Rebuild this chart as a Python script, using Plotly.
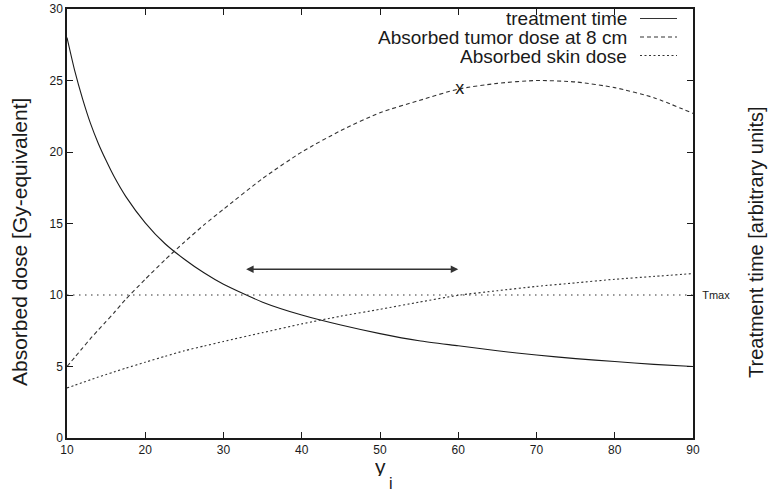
import plotly.graph_objects as go

# ---- data ----
y_i = [10, 11, 12, 13, 14, 15, 16, 17.5, 20, 22.5, 25, 27.5, 30, 35, 40, 45, 50, 55, 60, 65, 70, 75, 80, 85, 90]
treatment_time = [28.0, 25.65, 23.7, 22.0, 20.6, 19.4, 18.3, 16.9, 15.05, 13.6, 12.5, 11.55, 10.75, 9.5, 8.6, 7.9, 7.3, 6.8, 6.45, 6.1, 5.8, 5.55, 5.35, 5.15, 5.0]
tumor_dose = [5.0, 5.65, 6.3, 6.95, 7.55, 8.15, 8.75, 9.7, 11.1, 12.45, 13.7, 14.9, 16.0, 18.15, 20.0, 21.5, 22.75, 23.6, 24.4, 24.8, 25.0, 24.9, 24.5, 23.8, 22.7]
skin_dose = [3.5, 3.69, 3.88, 4.07, 4.26, 4.44, 4.62, 4.88, 5.3, 5.71, 6.1, 6.43, 6.75, 7.37, 7.98, 8.52, 9.0, 9.5, 9.98, 10.3, 10.6, 10.85, 11.1, 11.3, 11.5]
tmax_x = [10, 90]
tmax_level = [10, 10]
arrow_x = [32.7, 60.0]
arrow_y = 11.8
marker_x = [60.2]
marker_y = [24.4]
x_ticks = [10, 20, 30, 40, 50, 60, 70, 80, 90]
y_ticks = [0, 5, 10, 15, 20, 25, 30]

legend_names = ["treatment time", "Absorbed tumor dose at 8 cm", "Absorbed skin dose"]
legend_dash = ["solid", "4px,3px", "2px,2.5px"]

FONT = "Liberation Sans, Arial, sans-serif"
INK = "#1a1a1a"

fig = go.Figure()
fig.add_trace(go.Scatter(x=y_i, y=treatment_time, mode="lines", line=dict(color=INK, width=1.1, shape="spline", smoothing=0.6), showlegend=False))
fig.add_trace(go.Scatter(x=y_i, y=tumor_dose, mode="lines", line=dict(color="#333", width=1.1, dash="4px,3px", shape="spline", smoothing=0.6), showlegend=False))
fig.add_trace(go.Scatter(x=y_i, y=skin_dose, mode="lines", line=dict(color="#333", width=1.1, dash="2px,2.5px", shape="spline", smoothing=0.6), showlegend=False))
fig.add_trace(go.Scatter(x=tmax_x, y=tmax_level, mode="lines", yaxis="y2", line=dict(color="#333", width=1.2, dash="1.5px,4.5px"), showlegend=False))
fig.add_trace(go.Scatter(x=marker_x, y=marker_y, mode="text", text=["x"], textposition="middle center",
                         textfont=dict(family=FONT, size=18, color=INK), showlegend=False))

fig.add_annotation(x=arrow_x[1], y=arrow_y, ax=arrow_x[0], ay=arrow_y, axref="x", ayref="y", xref="x", yref="y",
                   text="", showarrow=True, arrowhead=2, arrowside="end+start", arrowsize=1, arrowwidth=1.5, arrowcolor="#333")

# pixel -> paper helpers for the plot frame
L, R, T, B = 67, 693, 9, 438
def px(xp):
    return (xp - L) / (R - L)
def py(yp):
    return (B - yp) / (B - T)

# legend (text on the left, sample on the right)
rows = [18.5, 37, 55.5]
for name, dash, yr in zip(legend_names, legend_dash, rows):
    fig.add_annotation(x=px(628), y=py(yr), xref="paper", yref="paper", text=name, showarrow=False, height=18,
                       borderpad=0, xanchor="right", yanchor="middle", font=dict(family=FONT, size=19, color=INK))
    fig.add_shape(type="line", xref="paper", yref="paper", x0=px(640), x1=px(677), y0=py(yr), y1=py(yr),
                  line=dict(color="#333", width=1.1, dash=dash))

# axis titles
fig.add_annotation(x=px(20), y=py(242), xref="paper", yref="paper", text="Absorbed dose [Gy-equivalent]",
                   textangle=-90, showarrow=False, xanchor="center", yanchor="middle", font=dict(family=FONT, size=21, color=INK))
fig.add_annotation(x=px(756), y=py(242), xref="paper", yref="paper", text="Treatment time [arbitrary units]",
                   textangle=-90, showarrow=False, xanchor="center", yanchor="middle", font=dict(family=FONT, size=20, color=INK))
fig.add_annotation(x=px(380), y=py(466), xref="paper", yref="paper", text="y", height=20, borderpad=0,
                   showarrow=False, xanchor="center", yanchor="middle", font=dict(family=FONT, size=21, color=INK))
fig.add_annotation(x=px(391), y=py(483), xref="paper", yref="paper", text="i",
                   showarrow=False, xanchor="center", yanchor="middle", font=dict(family=FONT, size=16, color=INK))

fig.update_layout(
    width=768, height=498, autosize=False,
    margin=dict(l=L, r=768 - R, t=T, b=498 - B, autoexpand=False),
    paper_bgcolor="white", plot_bgcolor="white",
    font=dict(family=FONT, color=INK),
    xaxis=dict(range=[10, 90], tickvals=x_ticks, ticks="inside", ticklen=6, tickwidth=1, tickcolor=INK,
               showline=True, linecolor=INK, linewidth=1.5, mirror="ticks", showgrid=False, zeroline=False,
               automargin=False, tickfont=dict(size=12, family=FONT)),
    yaxis=dict(range=[0, 30], tickvals=y_ticks, ticks="inside", ticklen=6, tickwidth=1, tickcolor=INK,
               showline=True, linecolor=INK, linewidth=1.5, mirror="ticks", showgrid=False, zeroline=False,
               automargin=False, tickfont=dict(size=12, family=FONT)),
    yaxis2=dict(range=[0, 30], overlaying="y", side="right", tickvals=[10], ticktext=["Tmax"], ticks="outside",
                ticklen=6, tickcolor="rgba(0,0,0,0)", showline=False, showgrid=False, zeroline=False,
                automargin=False, tickfont=dict(size=11, family=FONT)),
)

fig.write_html("out.html", config={"displayModeBar": False},
               post_script="document.body.style.margin='0';document.body.style.overflow='hidden';")
